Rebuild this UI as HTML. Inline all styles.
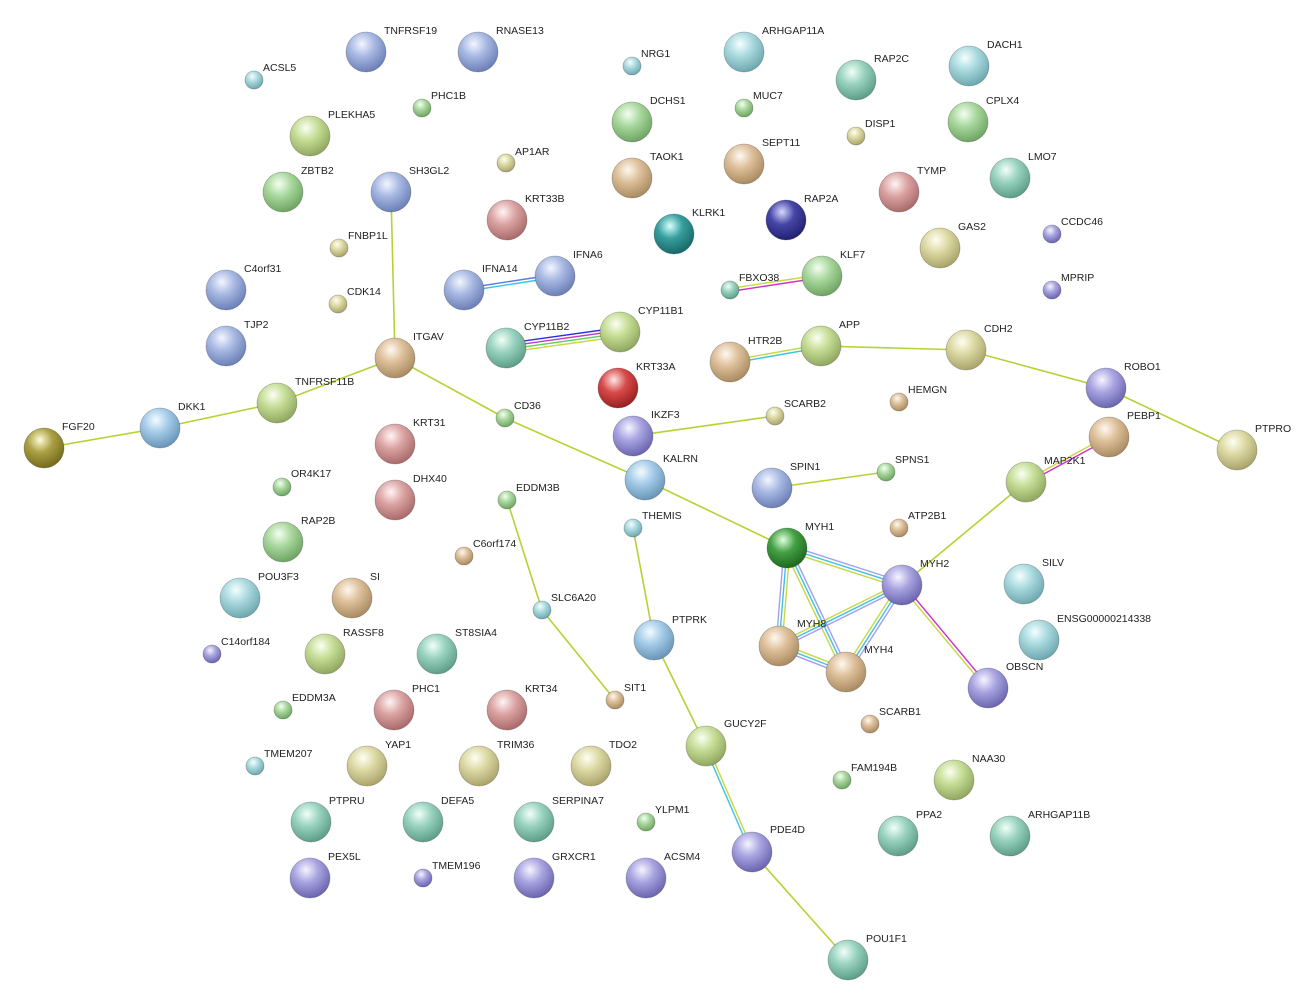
<!DOCTYPE html>
<html><head><meta charset="utf-8"><style>
html,body{margin:0;padding:0;background:#fff}
svg{display:block}
text{font-family:"Liberation Sans",Arial,sans-serif;font-size:10.5px;fill:#222}
.e{stroke:#b3d334;stroke-width:1.6}
circle{stroke:rgba(0,0,0,0.25);stroke-width:0.8}
</style></head><body>
<svg width="1307" height="1005" viewBox="0 0 1307 1005" xmlns="http://www.w3.org/2000/svg">
<defs>
<radialGradient id="blue" cx="40%" cy="30%" r="70%"><stop offset="0" stop-color="#f4f6ff"/><stop offset="0.45" stop-color="#a7b8e2"/><stop offset="1" stop-color="#6d80b8"/></radialGradient>
<radialGradient id="cyan" cx="40%" cy="30%" r="70%"><stop offset="0" stop-color="#f4ffff"/><stop offset="0.45" stop-color="#a9d9de"/><stop offset="1" stop-color="#6ea9b0"/></radialGradient>
<radialGradient id="green" cx="40%" cy="30%" r="70%"><stop offset="0" stop-color="#f4fff2"/><stop offset="0.45" stop-color="#a9d79d"/><stop offset="1" stop-color="#6fa664"/></radialGradient>
<radialGradient id="yellow" cx="40%" cy="30%" r="70%"><stop offset="0" stop-color="#fffff2"/><stop offset="0.45" stop-color="#dcd8a3"/><stop offset="1" stop-color="#aaa56a"/></radialGradient>
<radialGradient id="tan" cx="40%" cy="30%" r="70%"><stop offset="0" stop-color="#fff8f0"/><stop offset="0.45" stop-color="#dcbf99"/><stop offset="1" stop-color="#ab8c62"/></radialGradient>
<radialGradient id="pink" cx="40%" cy="30%" r="70%"><stop offset="0" stop-color="#fff4f4"/><stop offset="0.45" stop-color="#dba3a3"/><stop offset="1" stop-color="#ab6b6b"/></radialGradient>
<radialGradient id="purple" cx="40%" cy="30%" r="70%"><stop offset="0" stop-color="#f6f4ff"/><stop offset="0.45" stop-color="#a8a3e0"/><stop offset="1" stop-color="#6b66b0"/></radialGradient>
<radialGradient id="teal" cx="40%" cy="30%" r="70%"><stop offset="0" stop-color="#f2fff9"/><stop offset="0.45" stop-color="#98d2be"/><stop offset="1" stop-color="#5e9f88"/></radialGradient>
<radialGradient id="lgreen" cx="40%" cy="30%" r="70%"><stop offset="0" stop-color="#fbfff2"/><stop offset="0.45" stop-color="#c5dc95"/><stop offset="1" stop-color="#90a860"/></radialGradient>
<radialGradient id="red" cx="40%" cy="30%" r="70%"><stop offset="0" stop-color="#ffe6e6"/><stop offset="0.45" stop-color="#d84a4a"/><stop offset="1" stop-color="#9a2020"/></radialGradient>
<radialGradient id="dkblue" cx="40%" cy="30%" r="70%"><stop offset="0" stop-color="#d8d8ff"/><stop offset="0.45" stop-color="#4646a8"/><stop offset="1" stop-color="#222270"/></radialGradient>
<radialGradient id="dkteal" cx="40%" cy="30%" r="70%"><stop offset="0" stop-color="#d8ffff"/><stop offset="0.45" stop-color="#379e9e"/><stop offset="1" stop-color="#1a6a6a"/></radialGradient>
<radialGradient id="olive" cx="40%" cy="30%" r="70%"><stop offset="0" stop-color="#fffbd8"/><stop offset="0.45" stop-color="#aca044"/><stop offset="1" stop-color="#756c1e"/></radialGradient>
<radialGradient id="dkgreen" cx="40%" cy="30%" r="70%"><stop offset="0" stop-color="#e0ffe0"/><stop offset="0.45" stop-color="#44a044"/><stop offset="1" stop-color="#1e6a1e"/></radialGradient>
<radialGradient id="lblue" cx="40%" cy="30%" r="70%"><stop offset="0" stop-color="#f4fbff"/><stop offset="0.45" stop-color="#a4cbe8"/><stop offset="1" stop-color="#6a96b8"/></radialGradient>
</defs>

<!-- edges -->
<g>
<line class="e" x1="391" y1="192" x2="395" y2="358"/>
<line class="e" x1="395" y1="358" x2="277" y2="403"/>
<line class="e" x1="277" y1="403" x2="160" y2="428"/>
<line class="e" x1="160" y1="428" x2="44" y2="448"/>
<line class="e" x1="395" y1="358" x2="505" y2="418"/>
<line class="e" x1="505" y1="418" x2="645" y2="480"/>
<line class="e" x1="645" y1="480" x2="787" y2="548"/>
<line class="e" x1="821" y1="346" x2="966" y2="350"/>
<line class="e" x1="966" y1="350" x2="1106" y2="388"/>
<line class="e" x1="1106" y1="388" x2="1237" y2="450"/>
<line class="e" x1="633" y1="436" x2="775" y2="416"/>
<line class="e" x1="772" y1="488" x2="886" y2="472"/>
<line class="e" x1="1026" y1="482" x2="902" y2="585"/>
<line class="e" x1="507" y1="500" x2="542" y2="610"/>
<line class="e" x1="542" y1="610" x2="615" y2="700"/>
<line class="e" x1="633" y1="528" x2="654" y2="640"/>
<line class="e" x1="654" y1="640" x2="706" y2="746"/>
<line class="e" x1="752" y1="852" x2="848" y2="960"/>
<!-- IFNA -->
<line x1="464" y1="290" x2="555" y2="276" stroke="#5a7be0" stroke-width="1.4" transform="translate(0,-1.5)"/>
<line x1="464" y1="290" x2="555" y2="276" stroke="#3cc4e0" stroke-width="1.4" transform="translate(0,1.5)"/>
<!-- CYP -->
<line x1="506" y1="348" x2="620" y2="332" stroke="#3030e0" stroke-width="1.4" transform="translate(0,-4.5)"/>
<line x1="506" y1="348" x2="620" y2="332" stroke="#c040c0" stroke-width="1.4" transform="translate(0,-1.5)"/>
<line x1="506" y1="348" x2="620" y2="332" stroke="#60d060" stroke-width="1.4" transform="translate(0,1.5)"/>
<line x1="506" y1="348" x2="620" y2="332" stroke="#c8d840" stroke-width="1.4" transform="translate(0,4.5)"/>
<!-- FBXO38-KLF7 -->
<line x1="730" y1="290" x2="822" y2="276" stroke="#d030d0" stroke-width="1.4" transform="translate(0,1.5)"/>
<line x1="730" y1="290" x2="822" y2="276" stroke="#c8d840" stroke-width="1.4" transform="translate(0,-1.5)"/>
<!-- HTR2B-APP -->
<line x1="730" y1="362" x2="821" y2="346" stroke="#3cc4e0" stroke-width="1.4" transform="translate(0,1.5)"/>
<line x1="730" y1="362" x2="821" y2="346" stroke="#c8d840" stroke-width="1.4" transform="translate(0,-1.5)"/>
<!-- MAP2K1-PEBP1 -->
<line x1="1026" y1="482" x2="1109" y2="437" stroke="#d030d0" stroke-width="1.4" transform="translate(0.7,1.3)"/>
<line x1="1026" y1="482" x2="1109" y2="437" stroke="#c8d840" stroke-width="1.4" transform="translate(-0.7,-1.3)"/>
<!-- MYH2-OBSCN -->
<line x1="902" y1="585" x2="988" y2="688" stroke="#d030d0" stroke-width="1.4" transform="translate(1.2,-1)"/>
<line x1="902" y1="585" x2="988" y2="688" stroke="#c8d840" stroke-width="1.4" transform="translate(-1.2,1)"/>
<!-- GUCY2F-PDE4D -->
<line x1="706" y1="746" x2="752" y2="852" stroke="#3cc4e0" stroke-width="1.4" transform="translate(-1.5,0)"/>
<line x1="706" y1="746" x2="752" y2="852" stroke="#c8d840" stroke-width="1.4" transform="translate(1.5,0)"/>
<!-- myosins -->
<g stroke-width="1.4">
<line x1="787" y1="548" x2="902" y2="585" stroke="#a0a0f0" transform="translate(0.9,-2.9)"/>
<line x1="787" y1="548" x2="902" y2="585" stroke="#40c0e0"/>
<line x1="787" y1="548" x2="902" y2="585" stroke="#c8d840" transform="translate(-0.9,2.9)"/>
<line x1="787" y1="548" x2="779" y2="646" stroke="#a0a0f0" transform="translate(-3,0)"/>
<line x1="787" y1="548" x2="779" y2="646" stroke="#40c0e0"/>
<line x1="787" y1="548" x2="779" y2="646" stroke="#c8d840" transform="translate(3,0)"/>
<line x1="787" y1="548" x2="846" y2="672" stroke="#a0a0f0" transform="translate(2.7,-1.3)"/>
<line x1="787" y1="548" x2="846" y2="672" stroke="#40c0e0"/>
<line x1="787" y1="548" x2="846" y2="672" stroke="#c8d840" transform="translate(-2.7,1.3)"/>
<line x1="902" y1="585" x2="779" y2="646" stroke="#a0a0f0" transform="translate(1.4,2.4)"/>
<line x1="902" y1="585" x2="779" y2="646" stroke="#40c0e0"/>
<line x1="902" y1="585" x2="779" y2="646" stroke="#c8d840" transform="translate(-1.4,-2.4)"/>
<line x1="902" y1="585" x2="846" y2="672" stroke="#a0a0f0" transform="translate(2.4,1.8)"/>
<line x1="902" y1="585" x2="846" y2="672" stroke="#40c0e0"/>
<line x1="902" y1="585" x2="846" y2="672" stroke="#c8d840" transform="translate(-2.4,-1.8)"/>
<line x1="779" y1="646" x2="846" y2="672" stroke="#a0a0f0" transform="translate(-1.1,2.8)"/>
<line x1="779" y1="646" x2="846" y2="672" stroke="#40c0e0"/>
<line x1="779" y1="646" x2="846" y2="672" stroke="#c8d840" transform="translate(1.1,-2.8)"/>
</g>
</g>

<!-- nodes -->
<g>
<circle cx="366" cy="52" r="20" fill="url(#blue)"/><text x="384" y="34">TNFRSF19</text>
<circle cx="478" cy="52" r="20" fill="url(#blue)"/><text x="496" y="34">RNASE13</text>
<circle cx="254" cy="80" r="9" fill="url(#cyan)"/><text x="263" y="71">ACSL5</text>
<circle cx="422" cy="108" r="9" fill="url(#green)"/><text x="431" y="99">PHC1B</text>
<circle cx="310" cy="136" r="20" fill="url(#lgreen)"/><text x="328" y="118">PLEKHA5</text>
<circle cx="283" cy="192" r="20" fill="url(#green)"/><text x="301" y="174">ZBTB2</text>
<circle cx="391" cy="192" r="20" fill="url(#blue)"/><text x="409" y="174">SH3GL2</text>
<circle cx="506" cy="163" r="9" fill="url(#yellow)"/><text x="515" y="155">AP1AR</text>
<circle cx="339" cy="248" r="9" fill="url(#yellow)"/><text x="348" y="239">FNBP1L</text>
<circle cx="226" cy="290" r="20" fill="url(#blue)"/><text x="244" y="272">C4orf31</text>
<circle cx="338" cy="304" r="9" fill="url(#yellow)"/><text x="347" y="295">CDK14</text>
<circle cx="226" cy="346" r="20" fill="url(#blue)"/><text x="244" y="328">TJP2</text>
<circle cx="395" cy="358" r="20" fill="url(#tan)"/><text x="413" y="340">ITGAV</text>
<circle cx="277" cy="403" r="20" fill="url(#lgreen)"/><text x="295" y="385">TNFRSF11B</text>
<circle cx="160" cy="428" r="20" fill="url(#lblue)"/><text x="178" y="410">DKK1</text>
<circle cx="44" cy="448" r="20" fill="url(#olive)"/><text x="62" y="430">FGF20</text>
<circle cx="507" cy="220" r="20" fill="url(#pink)"/><text x="525" y="202">KRT33B</text>
<circle cx="464" cy="290" r="20" fill="url(#blue)"/><text x="482" y="272">IFNA14</text>
<circle cx="555" cy="276" r="20" fill="url(#blue)"/><text x="573" y="258">IFNA6</text>
<circle cx="506" cy="348" r="20" fill="url(#teal)"/><text x="524" y="330">CYP11B2</text>
<circle cx="620" cy="332" r="20" fill="url(#lgreen)"/><text x="638" y="314">CYP11B1</text>
<circle cx="618" cy="388" r="20" fill="url(#red)"/><text x="636" y="370">KRT33A</text>
<circle cx="505" cy="418" r="9" fill="url(#green)"/><text x="514" y="409">CD36</text>
<circle cx="395" cy="444" r="20" fill="url(#pink)"/><text x="413" y="426">KRT31</text>
<circle cx="282" cy="487" r="9" fill="url(#green)"/><text x="291" y="477">OR4K17</text>
<circle cx="395" cy="500" r="20" fill="url(#pink)"/><text x="413" y="482">DHX40</text>
<circle cx="507" cy="500" r="9" fill="url(#green)"/><text x="516" y="491">EDDM3B</text>
<circle cx="464" cy="556" r="9" fill="url(#tan)"/><text x="473" y="547">C6orf174</text>
<circle cx="283" cy="542" r="20" fill="url(#green)"/><text x="301" y="524">RAP2B</text>
<circle cx="240" cy="598" r="20" fill="url(#cyan)"/><text x="258" y="580">POU3F3</text>
<circle cx="352" cy="598" r="20" fill="url(#tan)"/><text x="370" y="580">SI</text>
<circle cx="212" cy="654" r="9" fill="url(#purple)"/><text x="221" y="645">C14orf184</text>
<circle cx="325" cy="654" r="20" fill="url(#lgreen)"/><text x="343" y="636">RASSF8</text>
<circle cx="437" cy="654" r="20" fill="url(#teal)"/><text x="455" y="636">ST8SIA4</text>
<circle cx="542" cy="610" r="9" fill="url(#cyan)"/><text x="551" y="601">SLC6A20</text>
<circle cx="283" cy="710" r="9" fill="url(#green)"/><text x="292" y="701">EDDM3A</text>
<circle cx="394" cy="710" r="20" fill="url(#pink)"/><text x="412" y="692">PHC1</text>
<circle cx="507" cy="710" r="20" fill="url(#pink)"/><text x="525" y="692">KRT34</text>
<circle cx="615" cy="700" r="9" fill="url(#tan)"/><text x="624" y="691">SIT1</text>
<circle cx="255" cy="766" r="9" fill="url(#cyan)"/><text x="264" y="757">TMEM207</text>
<circle cx="367" cy="766" r="20" fill="url(#yellow)"/><text x="385" y="748">YAP1</text>
<circle cx="479" cy="766" r="20" fill="url(#yellow)"/><text x="497" y="748">TRIM36</text>
<circle cx="591" cy="766" r="20" fill="url(#yellow)"/><text x="609" y="748">TDO2</text>
<circle cx="311" cy="822" r="20" fill="url(#teal)"/><text x="329" y="804">PTPRU</text>
<circle cx="423" cy="822" r="20" fill="url(#teal)"/><text x="441" y="804">DEFA5</text>
<circle cx="534" cy="822" r="20" fill="url(#teal)"/><text x="552" y="804">SERPINA7</text>
<circle cx="646" cy="822" r="9" fill="url(#green)"/><text x="655" y="813">YLPM1</text>
<circle cx="310" cy="878" r="20" fill="url(#purple)"/><text x="328" y="860">PEX5L</text>
<circle cx="423" cy="878" r="9" fill="url(#purple)"/><text x="432" y="869">TMEM196</text>
<circle cx="534" cy="878" r="20" fill="url(#purple)"/><text x="552" y="860">GRXCR1</text>
<circle cx="646" cy="878" r="20" fill="url(#purple)"/><text x="664" y="860">ACSM4</text>
<circle cx="632" cy="66" r="9" fill="url(#cyan)"/><text x="641" y="57">NRG1</text>
<circle cx="632" cy="122" r="20" fill="url(#green)"/><text x="650" y="104">DCHS1</text>
<circle cx="632" cy="178" r="20" fill="url(#tan)"/><text x="650" y="160">TAOK1</text>
<circle cx="744" cy="52" r="20" fill="url(#cyan)"/><text x="762" y="34">ARHGAP11A</text>
<circle cx="744" cy="108" r="9" fill="url(#green)"/><text x="753" y="99">MUC7</text>
<circle cx="744" cy="164" r="20" fill="url(#tan)"/><text x="762" y="146">SEPT11</text>
<circle cx="674" cy="234" r="20" fill="url(#dkteal)"/><text x="692" y="216">KLRK1</text>
<circle cx="786" cy="220" r="20" fill="url(#dkblue)"/><text x="804" y="202">RAP2A</text>
<circle cx="856" cy="80" r="20" fill="url(#teal)"/><text x="874" y="62">RAP2C</text>
<circle cx="856" cy="136" r="9" fill="url(#yellow)"/><text x="865" y="127">DISP1</text>
<circle cx="969" cy="66" r="20" fill="url(#cyan)"/><text x="987" y="48">DACH1</text>
<circle cx="968" cy="122" r="20" fill="url(#green)"/><text x="986" y="104">CPLX4</text>
<circle cx="899" cy="192" r="20" fill="url(#pink)"/><text x="917" y="174">TYMP</text>
<circle cx="1010" cy="178" r="20" fill="url(#teal)"/><text x="1028" y="160">LMO7</text>
<circle cx="940" cy="248" r="20" fill="url(#yellow)"/><text x="958" y="230">GAS2</text>
<circle cx="1052" cy="234" r="9" fill="url(#purple)"/><text x="1061" y="225">CCDC46</text>
<circle cx="822" cy="276" r="20" fill="url(#green)"/><text x="840" y="258">KLF7</text>
<circle cx="730" cy="290" r="9" fill="url(#teal)"/><text x="739" y="281">FBXO38</text>
<circle cx="1052" cy="290" r="9" fill="url(#purple)"/><text x="1061" y="281">MPRIP</text>
<circle cx="821" cy="346" r="20" fill="url(#lgreen)"/><text x="839" y="328">APP</text>
<circle cx="730" cy="362" r="20" fill="url(#tan)"/><text x="748" y="344">HTR2B</text>
<circle cx="966" cy="350" r="20" fill="url(#yellow)"/><text x="984" y="332">CDH2</text>
<circle cx="899" cy="402" r="9" fill="url(#tan)"/><text x="908" y="393">HEMGN</text>
<circle cx="1106" cy="388" r="20" fill="url(#purple)"/><text x="1124" y="370">ROBO1</text>
<circle cx="1109" cy="437" r="20" fill="url(#tan)"/><text x="1127" y="419">PEBP1</text>
<circle cx="1237" cy="450" r="20" fill="url(#yellow)"/><text x="1255" y="432">PTPRO</text>
<circle cx="775" cy="416" r="9" fill="url(#yellow)"/><text x="784" y="407">SCARB2</text>
<circle cx="633" cy="436" r="20" fill="url(#purple)"/><text x="651" y="418">IKZF3</text>
<circle cx="645" cy="480" r="20" fill="url(#lblue)"/><text x="663" y="462">KALRN</text>
<circle cx="772" cy="488" r="20" fill="url(#blue)"/><text x="790" y="470">SPIN1</text>
<circle cx="886" cy="472" r="9" fill="url(#green)"/><text x="895" y="463">SPNS1</text>
<circle cx="1026" cy="482" r="20" fill="url(#lgreen)"/><text x="1044" y="464">MAP2K1</text>
<circle cx="633" cy="528" r="9" fill="url(#cyan)"/><text x="642" y="519">THEMIS</text>
<circle cx="899" cy="528" r="9" fill="url(#tan)"/><text x="908" y="519">ATP2B1</text>
<circle cx="787" cy="548" r="20" fill="url(#dkgreen)"/><text x="805" y="530">MYH1</text>
<circle cx="902" cy="585" r="20" fill="url(#purple)"/><text x="920" y="567">MYH2</text>
<circle cx="1024" cy="584" r="20" fill="url(#cyan)"/><text x="1042" y="566">SILV</text>
<circle cx="1039" cy="640" r="20" fill="url(#cyan)"/><text x="1057" y="622">ENSG00000214338</text>
<circle cx="779" cy="646" r="20" fill="url(#tan)"/><text x="797" y="627">MYH8</text>
<circle cx="846" cy="672" r="20" fill="url(#tan)"/><text x="864" y="653">MYH4</text>
<circle cx="988" cy="688" r="20" fill="url(#purple)"/><text x="1006" y="670">OBSCN</text>
<circle cx="654" cy="640" r="20" fill="url(#lblue)"/><text x="672" y="623">PTPRK</text>
<circle cx="870" cy="724" r="9" fill="url(#tan)"/><text x="879" y="715">SCARB1</text>
<circle cx="706" cy="746" r="20" fill="url(#lgreen)"/><text x="724" y="727">GUCY2F</text>
<circle cx="842" cy="780" r="9" fill="url(#green)"/><text x="851" y="771">FAM194B</text>
<circle cx="954" cy="780" r="20" fill="url(#lgreen)"/><text x="972" y="762">NAA30</text>
<circle cx="898" cy="836" r="20" fill="url(#teal)"/><text x="916" y="818">PPA2</text>
<circle cx="1010" cy="836" r="20" fill="url(#teal)"/><text x="1028" y="818">ARHGAP11B</text>
<circle cx="752" cy="852" r="20" fill="url(#purple)"/><text x="770" y="833">PDE4D</text>
<circle cx="848" cy="960" r="20" fill="url(#teal)"/><text x="866" y="942">POU1F1</text>
</g>
</svg>
</body></html>
